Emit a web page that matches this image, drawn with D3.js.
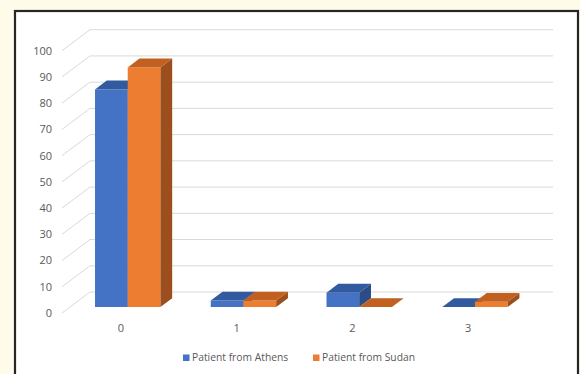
<!DOCTYPE html>
<html>
<head>
<meta charset="utf-8">
<script src="https://cdn.jsdelivr.net/npm/d3@7"></script>
<style>
  html, body { margin: 0; padding: 0; background: #fffbea; }
  svg { display: block; }
  text { font-family: "Open Sans", Lato, sans-serif; fill: #595959; }
</style>
</head>
<body>
<svg id="chart" width="580" height="374"></svg>
<script>
// Chart data
const categories = ["0", "1", "2", "3"];
const seriesNames = ["Patient from Athens", "Patient from Sudan"];
const athens = [83, 2.5, 5.5, 0];
const sudan = [91.4, 2.5, 0, 2];
const yTicks = [0, 10, 20, 30, 40, 50, 60, 70, 80, 90, 100];

// Face colours per series: front, top, side
const palette = [
  { front: "#4472c4", top: "#325a9e", side: "#2b4c86" },
  { front: "#ed7d31", top: "#c2601f", side: "#9c4f1c" }
];

const svg = d3.select("#chart");

// Chart frame
svg.append("rect")
  .attr("x", 15).attr("y", 11)
  .attr("width", 563).attr("height", 380)
  .attr("fill", "#ffffff")
  .attr("stroke", "#262626").attr("stroke-width", 2.2);

// Front plane scales and depth vector of the 3D box
const x = d3.scaleBand().domain(categories).range([62, 525]);
const y = d3.scaleLinear().domain([0, 100]).range([313, 50.7]);
const depth = { dx: 28, dy: -21 };
const proj = (px, v, t) => [px + t * depth.dx, y(v) + t * depth.dy];

// Gridlines: side wall diagonals and back wall horizontals
const grid = svg.append("g").attr("stroke", "#d9d9d9").attr("stroke-width", 1).attr("fill", "none");
yTicks.forEach(v => {
  const a = proj(x.range()[0], v, 0), b = proj(x.range()[0], v, 1), c = proj(x.range()[1], v, 1);
  grid.append("path").attr("d", d3.line()([a, b, c]));
});

// Y axis labels
svg.append("g").selectAll("text").data(yTicks).join("text")
  .attr("x", 52).attr("y", d => y(d) + 1)
  .attr("text-anchor", "end").attr("dominant-baseline", "middle")
  .attr("font-size", 11)
  .text(d => d);

// X axis labels
svg.append("g").selectAll("text").data(categories).join("text")
  .attr("x", d => x(d) + x.bandwidth() / 2 + 1).attr("y", 329)
  .attr("text-anchor", "middle").attr("dominant-baseline", "middle")
  .attr("font-size", 11)
  .text(d => d);

// Bars as 3D boxes
const t1 = 0.28, t2 = 0.70;
const barW = x.bandwidth() * 0.2825;
const series = [athens, sudan];
const bars = svg.append("g");
const poly = pts => "M" + pts.map(p => p.join(",")).join("L") + "Z";
categories.forEach((cat, i) => {
  const cx = x(cat) + x.bandwidth() / 2;
  series.forEach((vals, s) => {
    const v = vals[i];
    const x0 = cx - barW + s * barW, x1 = x0 + barW;
    const col = palette[s];
    if (v > 0) {
      // front face
      bars.append("path")
        .attr("d", poly([proj(x0, 0, t1), proj(x1, 0, t1), proj(x1, v, t1), proj(x0, v, t1)]))
        .attr("fill", col.front);
      // side face
      bars.append("path")
        .attr("d", poly([proj(x1, 0, t1), proj(x1, 0, t2), proj(x1, v, t2), proj(x1, v, t1)]))
        .attr("fill", col.side);
    }
    // top face
    bars.append("path")
      .attr("d", poly([proj(x0, v, t1), proj(x1, v, t1), proj(x1, v, t2), proj(x0, v, t2)]))
      .attr("fill", col.top);
  });
});

// Legend
const legend = svg.append("g");
const legendX = [183, 313];
seriesNames.forEach((name, s) => {
  legend.append("rect")
    .attr("x", legendX[s]).attr("y", 354.5)
    .attr("width", 6.5).attr("height", 6.5)
    .attr("fill", palette[s].front);
  legend.append("text")
    .attr("x", legendX[s] + 9).attr("y", 358.5)
    .attr("dominant-baseline", "middle")
    .attr("font-size", 10.3)
    .text(name);
});
</script>
</body>
</html>
